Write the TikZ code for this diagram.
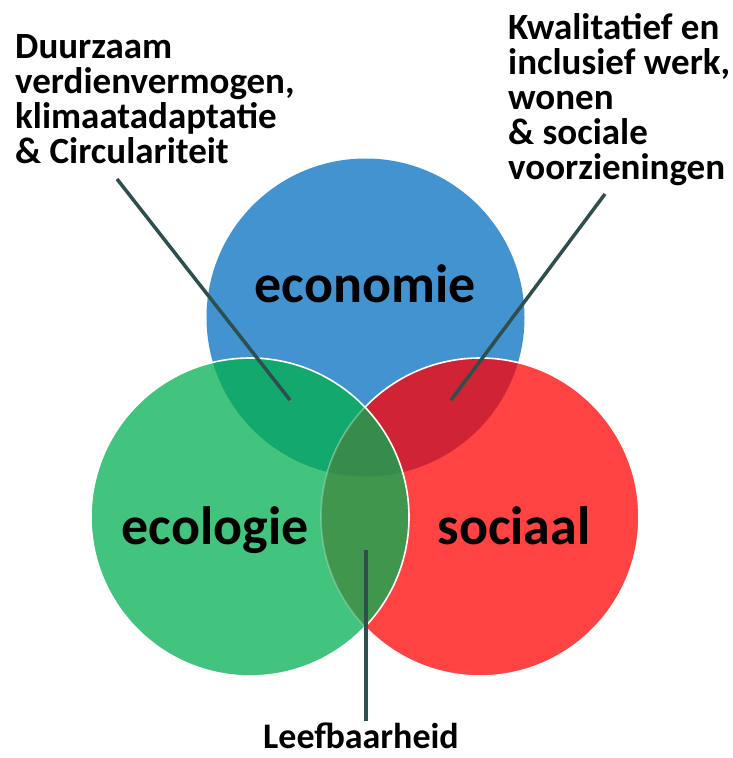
\documentclass[tikz,border=0pt]{standalone}
\usepackage{fontspec}
\setmainfont{Carlito}
\definecolor{ecoblue}{RGB}{67,147,208}
\definecolor{ecogreen}{RGB}{66,196,126}
\definecolor{socred}{RGB}{255,67,67}
\definecolor{bluegreen}{RGB}{18,168,110}
\definecolor{bluered}{RGB}{208,36,54}
\definecolor{greenred}{RGB}{65,150,78}
\definecolor{allthree}{RGB}{53,140,75}
\definecolor{pointer}{RGB}{47,79,79}
\begin{document}
\begin{tikzpicture}[x=1pt, y=-1pt, line join = round]
	\tikzset{big label/.style={font=\fontsize{54}{60}\selectfont\bfseries, inner sep=0, anchor=base},
		small label/.style={font=\fontsize{37}{35}\selectfont\bfseries, inner sep=0, align=left},
		pointer line/.style={pointer, line width=3.5pt},
		rim/.style={white, line width=1.6pt}}
	\useasboundingbox (0,0) rectangle (732,758);
	\coordinate (B) at (365.5,317.5);
	\coordinate (G) at (250,517);
	\coordinate (R) at (480,517);
	% economie and sociaal
	\fill[ecoblue] (B) circle (159);
	\fill[socred] (R) circle (159);
	\begin{scope}
		\clip (B) circle (159);
		\fill[bluered] (R) circle (159);
	\end{scope}
	\draw[rim] (R) circle (159);
	% ecologie on top
	\fill[ecogreen] (G) circle (159);
	\begin{scope}
		\clip (G) circle (159);
		\fill[bluegreen] (B) circle (159);
		\fill[greenred] (R) circle (159);
		\draw[white, opacity=0.25, line width=1.6pt] (R) circle (159);
		\clip (B) circle (159);
		\fill[allthree] (R) circle (159);
		\draw[white, opacity=0.25, line width=1.6pt] (R) circle (159);
	\end{scope}
	\draw[rim] (G) circle (159);
	\node[big label] (economie) at (365,302) {economie};
	\node[big label] (ecologie) at (215,544) {ecologie};
	\node[big label] (sociaal) at (514,544) {sociaal};
	% last baselines
	\node[small label, anchor=base west] (duurzaam) at (15,163) {Duurzaam\\verdienvermogen,\\klimaatadaptatie\\\& Circulariteit};
	\node[small label, anchor=base west] (kwalitatief) at (508,179) {Kwalitatief en\\inclusief werk,\\wonen\\\& sociale\\voorzieningen};
	\node[small label, font=\fontsize{36}{35}\selectfont\bfseries, anchor=base] (leefbaar) at (361,748) {Leefbaarheid};
	\coordinate (duurzaam end) at (117,179);
	\coordinate (bg spot) at (290,400);
	\coordinate (kwalitatief end) at (605,194);
	\coordinate (br spot) at (451,400);
	\coordinate (leefbaar end) at (366,721);
	\coordinate (gr spot) at (366,550);
	\draw[pointer line] (duurzaam end) -- (bg spot);
	\draw[pointer line] (kwalitatief end) -- (br spot);
	\draw[pointer line] (leefbaar end) -- (gr spot);
\end{tikzpicture}
\end{document}
